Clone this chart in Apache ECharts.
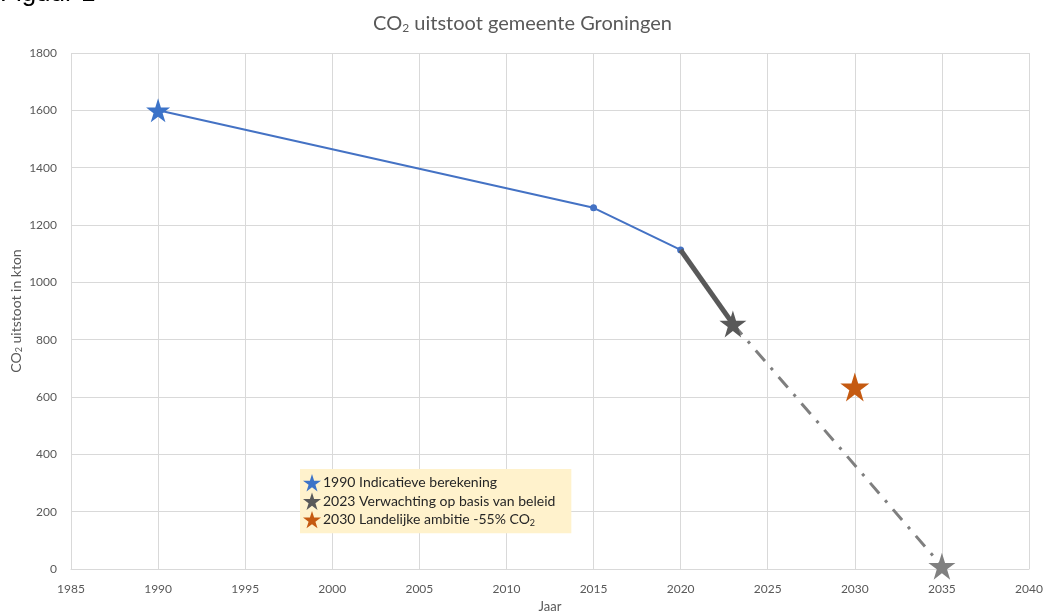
<!DOCTYPE html>
<html>
<head>
<meta charset="utf-8">
<script src="https://cdn.jsdelivr.net/npm/echarts@6/dist/echarts.min.js"></script>
<style>html,body{margin:0;padding:0;background:#fff}#c{width:1045px;height:615px}</style>
</head>
<body>
<div id="c"></div>
<script>
const xTicks = [1985, 1990, 1995, 2000, 2005, 2010, 2015, 2020, 2025, 2030, 2035, 2040];
const yTicks = [0, 200, 400, 600, 800, 1000, 1200, 1400, 1600, 1800];
const histYears = [1990, 2015, 2020];
const histValues = [1600, 1260, 1113];
const expectYears = [2020, 2023];
const expectValues = [1113, 855];
const trendYears = [2023, 2035];
const trendValues = [855, 10];
const ambitionYear = [2030];
const ambitionValue = [635];
const legendNames = ['1990 Indicatieve berekening', '2023 Verwachting op basis van beleid', '2030 Landelijke ambitie -55% CO{sub|2}'];

const STAR = 'path://M50,0 L61.2,35.5 L98,35.5 L68.2,57.4 L79.4,93 L50,71 L20.6,93 L31.8,57.4 L2,35.5 L38.8,35.5 Z';
const FONT = 'Lato, "Open Sans", sans-serif';
const pairs = (xs, ys) => xs.map((x, i) => [x, ys[i]]);

const chart = echarts.init(document.getElementById('c'));
chart.setOption({
  animation: false,
  textStyle: { fontFamily: FONT },
  title: {
    text: 'CO{sub|2} uitstoot gemeente Groningen',
    left: 'center', top: 8,
    textStyle: {
      fontFamily: FONT, fontSize: 20, fontWeight: 'normal', color: '#595959',
      rich: { sub: { fontSize: 12, color: '#595959', padding: [9, 0, 0, 0], fontFamily: FONT } }
    }
  },
  graphic: [{
    type: 'text', left: 0, top: -19,
    style: { text: 'Figuur 1', fontSize: 26, fill: '#000', fontFamily: '"Liberation Sans Narrow", sans-serif' }
  }],
  grid: { left: 71, right: 16, top: 53, bottom: 46, outerBoundsMode: 'none', containLabel: false },
  legend: {
    orient: 'vertical',
    left: 300, top: 469,
    width: 272,
    backgroundColor: '#FFF2CC',
    padding: [5, 16, 5, 3],
    itemGap: 1,
    itemWidth: 18, itemHeight: 18,
    data: legendNames.map(n => ({ name: n, icon: STAR })),
    selectedMode: false,
    textStyle: {
      fontFamily: FONT, fontSize: 14, color: '#262626', padding: [0, 0, 0, -3],
      rich: { sub: { fontSize: 9, color: '#262626', padding: [7, 0, 0, 0], fontFamily: FONT } }
    }
  },
  xAxis: {
    type: 'value', min: 1985, max: 2040, interval: 5,
    name: 'Jaar', nameLocation: 'middle', nameGap: 30,
    nameTextStyle: { fontFamily: FONT, fontSize: 13, color: '#595959' },
    axisLine: { show: true, lineStyle: { color: '#D9D9D9' } },
    axisTick: { show: false },
    axisLabel: { fontFamily: FONT, fontSize: 12, color: '#595959', margin: 14,
      formatter: v => xTicks.includes(v) ? String(v) : '' },
    splitLine: { show: true, lineStyle: { color: '#D9D9D9' } }
  },
  yAxis: {
    type: 'value', min: 0, max: 1800, interval: 200,
    name: 'CO{sub|2} uitstoot in kton', nameLocation: 'middle', nameGap: 47, nameRotate: 90,
    nameMoveOverlap: false,
    nameTextStyle: { fontFamily: FONT, fontSize: 14, color: '#595959',
      rich: { sub: { fontSize: 9, color: '#595959', fontFamily: FONT, padding: [7, 0, 0, 0] } } },
    axisLine: { show: false },
    axisTick: { show: false },
    axisLabel: { fontFamily: FONT, fontSize: 12, color: '#595959', margin: 14,
      formatter: v => yTicks.includes(v) ? String(v) : '' },
    splitLine: { show: true, lineStyle: { color: '#D9D9D9' } }
  },
  series: [
    {
      name: 'hist', type: 'line',
      data: pairs(histYears, histValues).map((p, i) => i === 0 ? { value: p, symbol: 'none' } : p),
      symbol: 'circle', symbolSize: 7,
      itemStyle: { color: '#4472C4' },
      lineStyle: { color: '#4472C4', width: 2 }, z: 2
    },
    {
      name: 'expect', type: 'line', data: pairs(expectYears, expectValues),
      showSymbol: false, symbol: 'none',
      lineStyle: { color: '#595959', width: 5 }, z: 3
    },
    {
      name: 'trend', type: 'line', data: pairs(trendYears, trendValues),
      showSymbol: false, symbol: 'none',
      lineStyle: { color: '#7F7F7F', width: 3, type: [14, 9, 3, 9] }, z: 2
    },
    {
      name: legendNames[0], type: 'scatter', data: [[histYears[0], histValues[0]]],
      symbol: STAR, symbolSize: 24, itemStyle: { color: '#3C73C8', opacity: 1 }, z: 5
    },
    {
      name: legendNames[1], type: 'scatter', data: [[expectYears[1], expectValues[1]]],
      symbol: STAR, symbolSize: 27, itemStyle: { color: '#595959', opacity: 1 }, z: 5
    },
    {
      name: legendNames[2], type: 'scatter', data: pairs(ambitionYear, ambitionValue),
      symbol: STAR, symbolSize: 29, itemStyle: { color: '#C55A11', opacity: 1 }, z: 5
    },
    {
      name: 'target', type: 'scatter', data: [[trendYears[1], trendValues[1]]],
      symbol: STAR, symbolSize: 27, itemStyle: { color: '#808080', opacity: 1 }, z: 5
    }
  ]
});
</script>
</body>
</html>
